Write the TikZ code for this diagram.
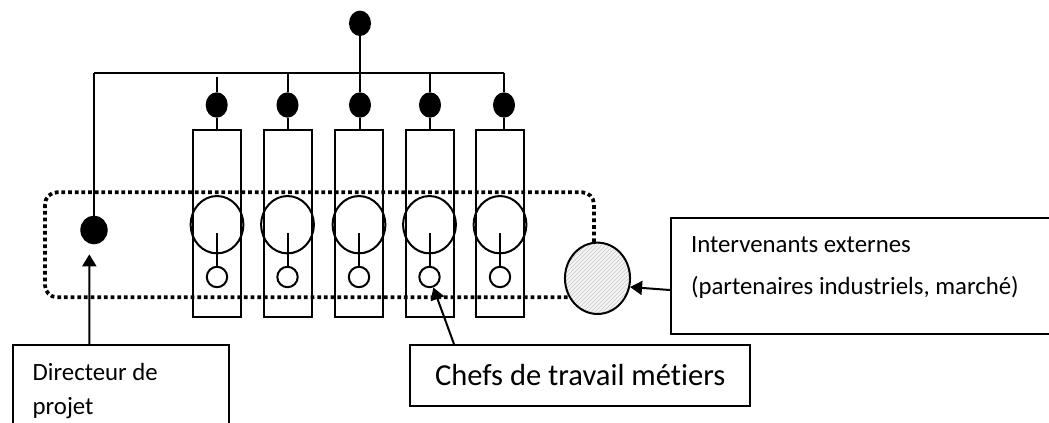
\documentclass[tikz,border=0pt]{standalone}
\usepackage{fontspec}
\setmainfont{Carlito}[Ligatures=NoCommon]
\usetikzlibrary{shapes.geometric,patterns,arrows.meta}

\begin{document}
\begin{tikzpicture}[x=0.75pt,y=-0.75pt,line width=1.5pt,
		blackdot/.style={ellipse,fill=black,draw=black,inner sep=0pt,minimum width=15pt,minimum height=17.5pt},
		chefbox/.style={draw,rectangle,inner sep=0pt,minimum width=36pt,minimum height=140pt},
		bigring/.style={draw,ellipse,inner sep=0pt,minimum width=39.5pt,minimum height=43pt},
		smallring/.style={draw,circle,inner sep=0pt,minimum size=15.3pt},
		labelbox/.style={draw,rectangle,inner sep=0pt,anchor=north west},
		labeltext/.style={anchor=base west,align=left,inner sep=0pt},
		pointer/.style={-{Triangle[length=9pt,width=10.5pt]}},
		frame/.style={line width=2.8pt,dash pattern=on 2.8pt off 2.2pt,rounded corners=9pt}]
		
		\useasboundingbox (0,0) rectangle (1049,423);
		\clip (0,0) rectangle (1049,423);
		
		%%% top = (360,23)
		\node[blackdot] (top) at (360,23.3) {};
		\coordinate (busL) at (94,72.7);
		\coordinate (busR) at (504,72.7);
		\draw (busL) -- (busR);
		\draw (top) -- (top |- busL);
		
		%%% directeur
		\node[blackdot,minimum width=19pt,minimum height=20pt] (dirdot) at (94,230) {};
		\draw (busL) -- (dirdot);
		
		%%% chef 1
		\node[blackdot] (d1) at (216.7,105) {};
		\node[chefbox] (c1) at (217,223.3) {};
		\node[bigring] (r1) at (217,224.7) {};
		\node[smallring] (s1) at (217,277) {};
		\draw (216.7,76.7) -- (d1) -- (d1 |- c1.north);
		\draw ([yshift=-6.5pt]r1.center) -- (s1);
		
		%%% chef 2
		\node[blackdot] (d2) at (287.5,105) {};
		\node[chefbox] (c2) at (287.5,223.3) {};
		\node[bigring] (r2) at (287.5,224.7) {};
		\node[smallring] (s2) at (287.5,277) {};
		\draw (d2 |- busL) -- (d2) -- (d2 |- c2.north);
		\draw ([yshift=-6.5pt]r2.center) -- (s2);
		
		%%% chef 3
		\node[blackdot] (d3) at (360,105) {};
		\node[chefbox] (c3) at (359,223.3) {};
		\node[bigring] (r3) at (359,224.7) {};
		\node[smallring] (s3) at (359,277) {};
		\draw (top |- busL) -- (d3) -- (d3 |- c3.north);
		\draw ([yshift=-6.5pt]r3.center) -- (s3);
		
		%%% chef 4
		\node[blackdot] (d4) at (430,105) {};
		\node[chefbox] (c4) at (429.5,223.3) {};
		\node[bigring] (r4) at (429.5,224.7) {};
		\node[smallring] (s4) at (429.5,277) {};
		\draw (d4 |- busL) -- (d4) -- (d4 |- c4.north);
		\draw ([yshift=-6.5pt]r4.center) -- (s4);
		
		%%% chef 5
		\node[blackdot] (d5) at (504,105) {};
		\node[chefbox] (c5) at (500,223.3) {};
		\node[bigring] (r5) at (500,224.7) {};
		\node[smallring] (s5) at (500,277) {};
		\draw (busR) -- (d5) -- (d5 |- c5.north);
		\draw ([yshift=-6.5pt]r5.center) -- (s5);
		
		%%% equipe
		\draw[frame] (45,192.3) rectangle (594,297.3);
		\node[ellipse,draw,inner sep=0pt,minimum width=48.8pt,minimum height=53.5pt,
			preaction={fill=gray!8},pattern=north east lines,pattern color=gray!45] (extern) at (597.5,278.3) {};
		
		%%% labels
		\node[labelbox,minimum width=162pt,minimum height=75pt] (dirbox) at (11.7,344) {};
		\node[labeltext,font=\fontsize{18.6}{26}\selectfont] (dirtext) at (31.7,415) {Directeur de\\projet};
		\node[labelbox,minimum width=300pt,minimum height=87.5pt] (extbox) at (670,216.7) {};
		\node[labeltext,font=\fontsize{18.6}{31.2}\selectfont] (exttext) at (690,294.3) {Intervenants externes\\(partenaires industriels, marché)};
		\node[labelbox,minimum width=254.8pt,minimum height=45.75pt,font=\fontsize{22.9}{28}\selectfont] (chefs) at (409.3,344) {Chefs de travail métiers};
		
		\draw[pointer] ([xshift=58.2pt]dirbox.north west) -- ([xshift=-3.5pt,yshift=-7.5pt]dirdot.south);
		\draw[pointer] ([xshift=33.5pt]chefs.north west) -- (s4);
		\draw[pointer] ([yshift=-10.5pt]extbox.west) -- (extern.-15);
		
	\end{tikzpicture}
\end{document}
